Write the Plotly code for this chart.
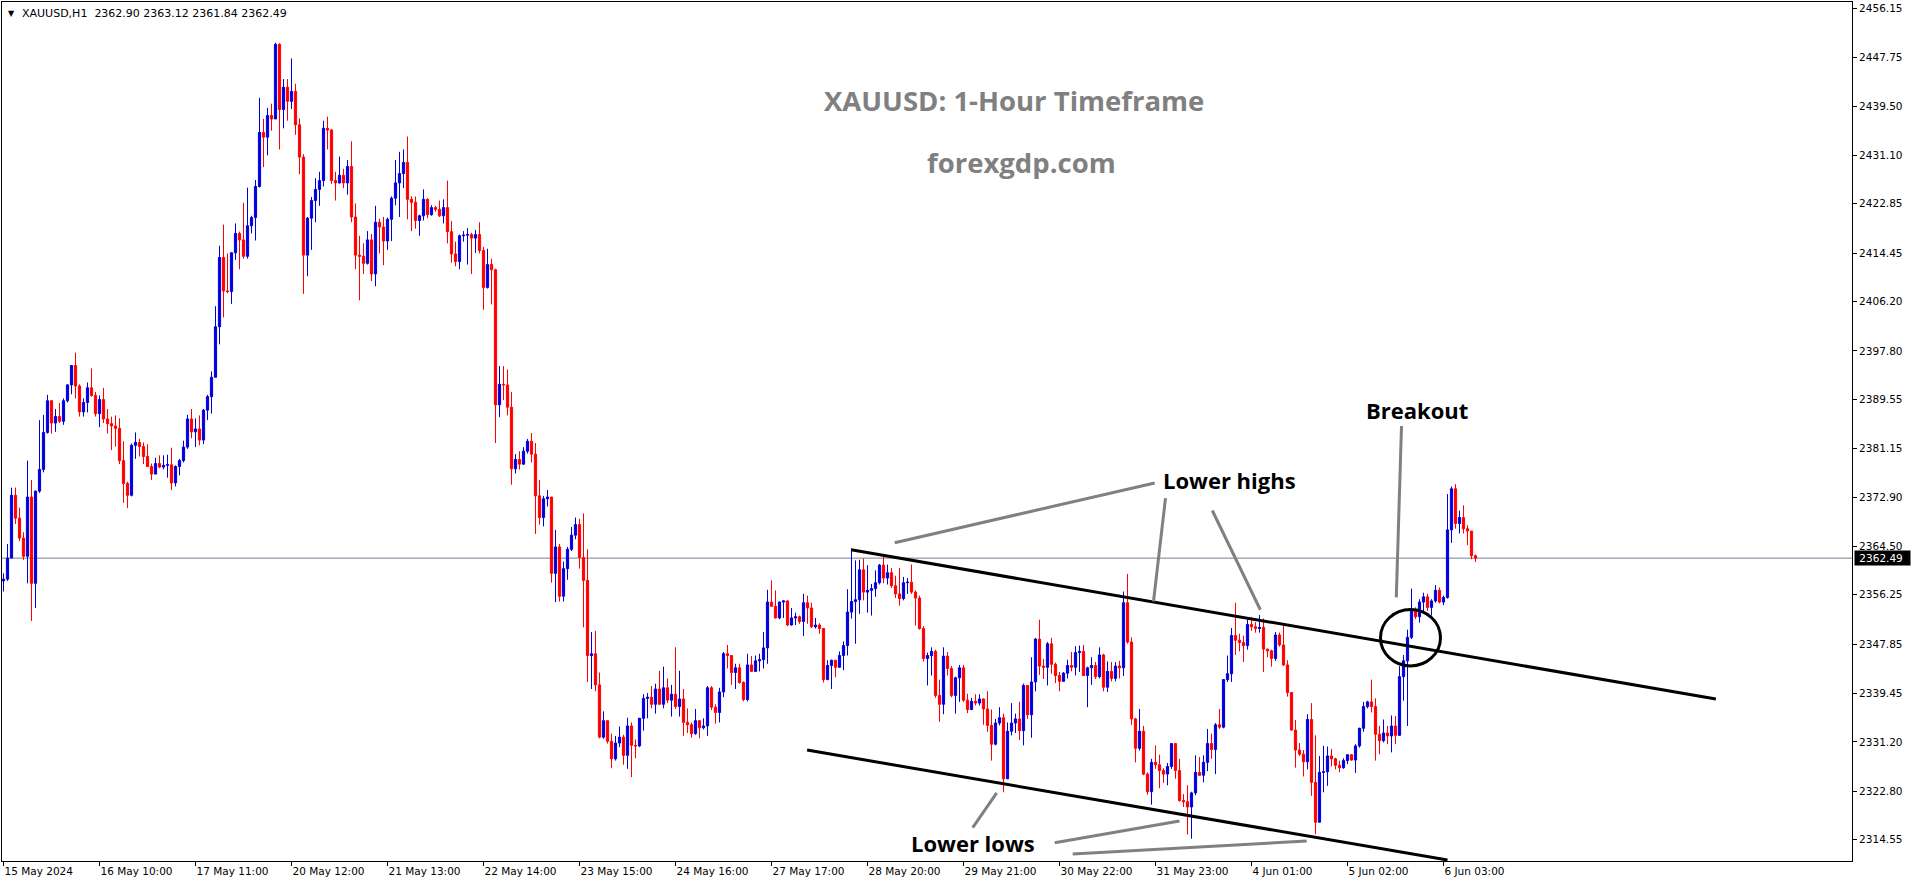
import plotly.graph_objects as go

# ---------------- data ----------------
first_open = 2358.6

close = [
2358.9,2362.5,2373.2,2369.3,2365.9,2362.8,2372.9,2358.2,2373.9,2377.6,
2383.9,2389.3,2385.5,2386.6,2385.8,2389.3,2392.0,2395.3,2391.8,2387.4,
2389.0,2391.5,2390.2,2387.1,2389.5,2386.2,2385.4,2385.0,2384.6,2379.1,
2375.2,2373.2,2381.7,2382.2,2381.5,2379.8,2378.1,2376.8,2378.6,2378.0,
2378.3,2378.4,2375.3,2378.1,2379.1,2381.4,2386.2,2384.0,2384.5,2382.6,
2387.7,2390.0,2393.3,2401.9,2413.7,2408.0,2407.9,2414.5,2417.8,2416.7,
2413.9,2419.1,2420.5,2425.8,2435.0,2434.2,2437.9,2437.3,2450.0,2438.9,
2442.7,2440.3,2442.0,2436.3,2430.8,2414.1,2420.4,2423.4,2425.3,2426.8,
2435.7,2435.4,2426.8,2426.4,2427.7,2426.4,2429.2,2420.6,2414.1,2413.9,
2412.7,2416.7,2410.9,2419.7,2418.9,2416.5,2420.2,2423.8,2426.4,2428.0,
2429.9,2423.6,2423.1,2420.0,2420.8,2423.6,2421.0,2422.2,2421.9,2420.8,
2422.2,2418.1,2414.3,2413.0,2417.4,2417.5,2417.6,2417.0,2417.6,2414.9,
2408.6,2412.5,2411.6,2388.6,2392.1,2392.0,2388.2,2377.7,2379.3,2378.5,
2380.7,2382.4,2380.2,2373.1,2369.4,2372.6,2372.9,2359.9,2364.4,2356.0,
2360.7,2364.0,2366.4,2368.2,2362.6,2358.7,2345.9,2346.2,2340.9,2332.0,
2334.8,2331.3,2328.3,2331.0,2332.0,2328.9,2333.9,2330.6,2330.5,2335.2,
2338.6,2338.8,2337.6,2340.2,2337.6,2340.4,2338.3,2339.3,2337.2,2338.5,
2334.5,2334.1,2332.6,2334.8,2333.6,2333.9,2340.4,2337.1,2336.2,2339.7,
2346.2,2345.9,2343.0,2343.8,2341.3,2338.4,2344.3,2343.2,2345.0,2345.2,
2347.2,2355.0,2354.3,2352.3,2355.0,2355.2,2351.1,2352.3,2352.5,2351.7,
2354.9,2354.0,2350.8,2351.1,2350.5,2341.8,2344.2,2345.1,2343.9,2345.9,
2347.6,2353.3,2355.1,2355.4,2360.5,2356.7,2357.0,2357.3,2358.3,2361.3,
2359.1,2360.0,2357.8,2356.4,2355.6,2358.3,2358.4,2356.7,2355.7,2350.5,
2345.4,2345.9,2346.6,2339.1,2337.6,2345.8,2343.7,2339.1,2342.1,2343.8,
2338.3,2336.7,2338.1,2337.8,2338.5,2336.8,2334.0,2330.8,2334.4,2335.3,
2324.9,2333.0,2334.4,2335.1,2333.1,2340.8,2335.8,2341.4,2348.7,2344.1,
2343.9,2347.9,2344.4,2342.5,2341.5,2342.9,2344.2,2343.9,2346.4,2346.6,
2342.5,2343.8,2344.2,2342.3,2346.0,2340.5,2343.2,2342.0,2344.1,2343.8,
2354.9,2348.2,2335.1,2330.1,2333.0,2325.7,2322.7,2327.7,2327.3,2326.3,
2325.7,2327.0,2330.9,2326.3,2321.2,2321.0,2320.1,2322.5,2326.0,2325.5,
2327.7,2330.9,2329.9,2334.1,2333.7,2341.8,2342.8,2349.3,2348.5,2348.1,
2347.6,2351.2,2350.8,2350.5,2350.7,2347.0,2346.7,2345.4,2349.4,2347.7,
2344.3,2339.6,2333.2,2329.8,2329.1,2327.8,2335.0,2324.3,2317.5,2326.0,
2326.1,2328.8,2328.3,2327.2,2326.8,2328.0,2329.0,2328.1,2330.5,2333.5,
2337.2,2338.0,2337.2,2332.5,2331.4,2332.7,2332.2,2333.9,2332.3,2342.3,
2345.0,2349.0,2353.5,2352.5,2355.0,2355.9,2354.1,2355.2,2357.0,2355.0,
2355.8,2367.3,2374.3,2368.4,2369.4,2367.5,2367.1,2362.9,2362.49,
]

high = [
2359.9,2364.9,2374.5,2374.5,2371.1,2366.9,2379.1,2375.8,2374.0,2386.0,
2386.9,2390.3,2389.4,2387.9,2388.9,2389.7,2392.1,2395.4,2397.5,2392.1,
2389.7,2392.4,2394.8,2390.8,2390.2,2391.5,2387.9,2386.6,2386.8,2386.3,
2382.4,2375.5,2382.0,2383.9,2382.8,2382.2,2381.9,2378.6,2379.6,2380.0,
2380.0,2380.1,2381.3,2378.3,2379.4,2382.5,2386.9,2387.9,2386.3,2386.8,
2387.9,2390.3,2394.3,2405.4,2415.7,2419.3,2414.4,2414.6,2419.5,2418.1,
2423.0,2425.6,2420.8,2426.9,2440.9,2437.3,2439.2,2439.9,2450.3,2450.2,
2444.1,2444.1,2447.6,2443.3,2437.4,2431.3,2420.6,2424.0,2427.2,2428.3,
2437.0,2437.7,2435.6,2428.3,2430.9,2428.8,2430.3,2433.5,2422.9,2417.4,
2416.1,2418.2,2417.7,2422.5,2420.3,2420.6,2420.5,2424.1,2430.3,2431.7,
2432.1,2434.3,2424.1,2424.1,2421.0,2425.3,2423.8,2422.6,2422.5,2423.4,
2423.6,2426.8,2419.9,2416.4,2417.6,2418.2,2418.7,2417.9,2418.4,2419.7,
2415.5,2415.2,2413.5,2411.8,2395.2,2395.2,2394.6,2390.8,2380.2,2380.7,
2381.4,2382.8,2383.8,2382.1,2375.8,2373.1,2374.1,2372.9,2367.3,2364.9,
2361.9,2364.4,2367.8,2369.4,2369.2,2370.1,2364.0,2349.9,2350.1,2343.0,
2336.4,2334.8,2332.6,2332.2,2333.8,2332.4,2335.3,2334.5,2331.6,2335.3,
2339.3,2339.5,2340.7,2341.1,2343.3,2344.0,2342.0,2340.9,2347.3,2343.3,
2340.2,2336.9,2334.5,2336.8,2334.9,2335.2,2340.7,2340.7,2337.6,2340.4,
2346.5,2347.7,2346.0,2344.5,2344.5,2341.5,2346.2,2345.8,2345.9,2346.2,
2349.9,2357.1,2358.7,2357.0,2355.1,2355.3,2355.3,2354.0,2353.2,2352.7,
2356.4,2356.1,2354.9,2352.3,2351.4,2350.6,2345.1,2345.2,2345.1,2346.6,
2348.3,2357.2,2364.1,2362.1,2362.2,2362.4,2361.3,2358.1,2360.4,2361.5,
2363.1,2361.4,2360.8,2359.5,2360.8,2359.3,2359.1,2361.4,2357.0,2356.1,
2350.9,2346.4,2347.3,2346.9,2341.8,2347.3,2346.5,2344.1,2342.3,2344.3,
2344.3,2339.4,2338.7,2339.3,2339.3,2338.6,2339.8,2336.7,2335.1,2337.1,
2336.0,2334.5,2337.8,2336.0,2338.0,2341.1,2340.8,2345.6,2348.9,2352.0,
2345.3,2348.2,2348.9,2344.7,2343.1,2343.1,2345.2,2346.5,2347.5,2347.6,
2347.7,2344.0,2345.6,2344.8,2347.3,2346.2,2344.9,2344.8,2344.8,2345.0,
2356.8,2359.8,2349.0,2335.3,2336.8,2333.9,2326.0,2328.3,2330.6,2329.0,
2326.7,2327.6,2331.0,2331.0,2328.3,2322.3,2323.8,2322.7,2328.9,2328.6,
2328.9,2333.4,2332.6,2334.4,2336.8,2341.9,2345.9,2350.6,2354.9,2349.6,
2349.3,2352.0,2352.4,2351.6,2352.8,2352.2,2347.0,2346.9,2349.9,2349.8,
2351.2,2345.1,2339.6,2334.9,2331.0,2329.8,2335.9,2337.8,2332.3,2328.8,
2330.5,2330.4,2330.0,2328.5,2328.0,2328.4,2329.1,2329.1,2330.8,2333.6,
2338.0,2338.2,2341.8,2338.6,2333.9,2335.0,2333.9,2335.7,2335.6,2344.1,
2346.0,2350.3,2357.3,2354.1,2355.5,2356.6,2356.4,2355.5,2357.9,2357.5,
2356.1,2373.4,2374.7,2375.1,2370.6,2371.5,2368.1,2367.1,2363.12,
]

low = [
2356.8,2358.6,2362.5,2368.3,2365.4,2362.2,2358.2,2351.8,2354.0,2373.6,
2377.1,2383.7,2383.7,2384.0,2385.5,2385.2,2389.0,2390.4,2389.7,2386.6,
2386.6,2387.3,2390.0,2386.6,2384.8,2385.5,2383.7,2380.9,2381.5,2378.5,
2371.9,2371.0,2373.0,2379.4,2379.8,2378.5,2378.0,2375.8,2376.8,2377.8,
2377.6,2376.2,2374.1,2374.7,2376.6,2378.8,2381.1,2382.9,2381.4,2381.7,
2381.9,2386.0,2387.1,2393.4,2398.9,2403.5,2407.6,2405.8,2413.3,2411.7,
2413.5,2413.5,2417.8,2416.6,2425.6,2429.1,2431.1,2435.3,2437.3,2432.1,
2435.7,2437.0,2439.0,2434.6,2427.9,2407.5,2410.5,2415.0,2419.7,2422.5,
2425.8,2432.1,2426.2,2423.4,2426.3,2425.5,2424.4,2419.7,2411.7,2406.4,
2410.9,2412.5,2409.7,2408.8,2414.4,2412.4,2415.0,2416.5,2422.6,2420.6,
2425.5,2420.2,2418.2,2418.6,2417.4,2420.0,2420.4,2420.8,2421.5,2420.6,
2419.5,2416.1,2412.8,2412.2,2411.7,2416.4,2412.5,2410.9,2414.5,2414.4,
2404.8,2408.4,2405.7,2382.1,2386.5,2389.4,2386.8,2375.0,2376.9,2377.6,
2378.4,2380.3,2378.8,2366.6,2368.2,2367.9,2371.3,2358.3,2355.0,2355.1,
2355.1,2358.8,2363.7,2365.7,2360.7,2350.7,2341.4,2340.2,2339.8,2331.8,
2331.7,2330.9,2326.7,2328.0,2330.3,2327.3,2326.6,2325.2,2328.4,2330.3,
2333.1,2335.2,2336.9,2336.0,2337.5,2336.9,2337.8,2335.5,2336.8,2335.5,
2332.2,2332.7,2331.9,2332.4,2331.8,2333.3,2332.2,2336.6,2334.3,2334.5,
2338.8,2343.7,2340.9,2340.2,2341.1,2338.1,2338.1,2343.1,2343.1,2343.2,
2343.7,2344.5,2354.2,2352.2,2352.1,2352.3,2350.9,2351.0,2351.1,2351.3,
2349.2,2351.3,2350.6,2350.5,2349.6,2341.3,2341.7,2340.2,2342.2,2343.8,
2343.4,2345.9,2352.2,2347.9,2353.0,2355.3,2353.2,2352.7,2355.9,2358.0,
2358.2,2358.0,2357.4,2355.7,2354.4,2355.3,2356.4,2356.4,2351.0,2350.3,
2344.9,2340.8,2342.5,2338.7,2334.6,2335.9,2342.5,2338.8,2336.0,2338.0,
2338.0,2336.1,2336.6,2337.4,2337.4,2334.1,2332.9,2328.0,2330.6,2334.0,
2322.6,2324.9,2332.3,2332.7,2331.5,2330.6,2335.1,2331.9,2339.8,2342.6,
2341.9,2340.8,2342.8,2341.2,2339.8,2341.5,2342.0,2343.2,2342.5,2343.1,
2342.4,2337.1,2340.9,2341.9,2342.0,2339.8,2339.7,2341.5,2341.5,2342.0,
2342.4,2347.9,2334.1,2327.7,2329.7,2325.5,2322.2,2320.5,2326.6,2323.3,
2324.2,2323.8,2326.6,2324.9,2321.0,2320.1,2315.4,2314.7,2322.1,2325.4,
2324.3,2326.2,2328.3,2325.7,2333.4,2333.5,2341.4,2341.4,2346.0,2346.6,
2344.8,2346.9,2350.1,2349.8,2349.8,2343.1,2345.6,2344.0,2345.0,2347.4,
2344.1,2338.9,2333.1,2326.8,2328.8,2325.3,2326.5,2322.0,2315.5,2317.5,
2322.6,2323.7,2327.0,2326.5,2326.0,2326.6,2327.4,2328.0,2325.9,2330.2,
2332.9,2336.9,2336.2,2328.0,2329.1,2331.1,2330.8,2329.4,2330.8,2332.2,
2338.2,2333.9,2348.7,2352.1,2351.5,2353.2,2353.5,2352.7,2354.9,2354.8,
2354.5,2355.6,2365.1,2367.5,2366.7,2366.7,2364.7,2362.3,2361.84,
]

tick_bars = [0, 24, 48, 72, 96, 120, 144, 168, 192, 216, 240, 264, 288, 312, 336, 360]
tick_labels = ["15 May 2024", "16 May 10:00", "17 May 11:00", "20 May 12:00",
               "21 May 13:00", "22 May 14:00", "23 May 15:00", "24 May 16:00",
               "27 May 17:00", "28 May 20:00", "29 May 21:00", "30 May 22:00",
               "31 May 23:00", "4 Jun 01:00", "5 Jun 02:00", "6 Jun 03:00"]
price_ticks = [2456.15, 2447.75, 2439.50, 2431.10, 2422.85, 2414.45, 2406.20,
               2397.80, 2389.55, 2381.15, 2372.90, 2364.50, 2356.25, 2347.85,
               2339.45, 2331.20, 2322.80, 2314.55]
last_price = 2362.49
header_ohlc = [2362.90, 2363.12, 2361.84, 2362.49]

# ---------------- derived series ----------------
bars = list(range(len(close)))
opens = [first_open] + close[:-1]
hi = [max(h, o, c) for h, o, c in zip(high, opens, close)]
lo = [min(l, o, c) for l, o, c in zip(low, opens, close)]

BLUE = "#0000dd"
RED = "#ff0000"
GREY = "#808080"

W, H = 1916, 884
ML, MR, MT, MB = 2, 64, 2, 23
PW, PH = W - ML - MR, H - MT - MB


def px(xp):
    return (xp - ML) / PW


def py(yp):
    return (H - MB - yp) / PH


fig = go.Figure(go.Candlestick(
    x=bars, open=opens, high=hi, low=lo, close=close,
    increasing=dict(line=dict(color=BLUE, width=1), fillcolor=BLUE),
    decreasing=dict(line=dict(color=RED, width=1), fillcolor=RED),
    whiskerwidth=0, hoverinfo="skip", showlegend=False,
))

axis_font = dict(family="DejaVu Sans", size=10.5, color="black")

fig.update_layout(
    width=W, height=H,
    margin=dict(l=ML, r=MR, t=MT, b=MB, pad=0),
    paper_bgcolor="white", plot_bgcolor="white",
    boxgap=0.45, boxgroupgap=0,
    showlegend=False,
    xaxis=dict(
        range=[-0.375, 462.125], rangeslider=dict(visible=False),
        tickmode="array", tickvals=tick_bars, ticktext=tick_labels,
        ticks="outside", ticklen=4, tickwidth=1, tickcolor="black",
        ticklabelposition="outside right",
        showgrid=False, zeroline=False,
        showline=True, linecolor="black", linewidth=1, mirror=True,
        tickfont=axis_font, fixedrange=True,
    ),
    yaxis=dict(
        range=[2310.9, 2457.22], side="right",
        tickmode="array", tickvals=price_ticks,
        ticktext=[f"{v:.2f}" for v in price_ticks],
        ticks="outside", ticklen=4, tickwidth=1, tickcolor="black",
        showgrid=False, zeroline=False,
        showline=True, linecolor="black", linewidth=1, mirror=True,
        tickfont=axis_font, fixedrange=True,
    ),
)

shapes = []
# current price line
shapes.append(dict(type="line", xref="paper", x0=0, x1=1, yref="y",
                   y0=last_price, y1=last_price,
                   line=dict(color="#708090", width=1), layer="below"))
# channel lines
shapes.append(dict(type="line", xref="x", yref="y", x0=211.9, y0=2363.9,
                   x1=428.1, y1=2338.5, line=dict(color="black", width=3)))
shapes.append(dict(type="line", xref="x", yref="y", x0=200.9, y0=2329.8,
                   x1=361.0, y1=2311.07, line=dict(color="black", width=3)))
# grey pointer lines
pointers = [
    (287.8, 2375.3, 222.8, 2365.1),
    (290.5, 2372.7, 287.5, 2355.1),
    (302.2, 2370.6, 314.2, 2353.7),
    (349.5, 2385.0, 348.2, 2355.8),
    (242.3, 2316.6, 248.3, 2322.5),
    (262.8, 2314.0, 294.0, 2317.7),
    (267.3, 2312.1, 325.8, 2314.3),
]
for x0, y0, x1, y1 in pointers:
    shapes.append(dict(type="line", xref="x", yref="y", x0=x0, y0=y0,
                       x1=x1, y1=y1, line=dict(color=GREY, width=3)))
# breakout circle
shapes.append(dict(type="circle", xref="x", yref="y", x0=344.25, x1=359.25,
                   y0=2344.12, y1=2353.74, line=dict(color="black", width=3)))
fig.update_layout(shapes=shapes)

nb = "\u00a0"
header_font = dict(family="DejaVu Sans", size=11, color="black")
anns = [
    dict(xref="paper", yref="paper", x=px(6), y=py(13), xanchor="left", yanchor="middle",
         text="\u25bc", showarrow=False, font=dict(family="DejaVu Sans", size=8, color="black")),
    dict(xref="paper", yref="paper", x=px(19.5), y=py(13), xanchor="left", yanchor="middle",
         text="XAUUSD,H1" + nb * 2 + " ".join(f"{v:.2f}" for v in header_ohlc),
         showarrow=False, font=header_font),
    dict(xref="paper", yref="paper", x=px(1014.5), y=py(100), xanchor="center", yanchor="middle",
         text="<b>XAUUSD: 1-Hour Timeframe</b>", showarrow=False,
         font=dict(family="Open Sans", size=27.5, color=GREY)),
    dict(xref="paper", yref="paper", x=px(1021), y=py(163), xanchor="center", yanchor="middle",
         text="<b>forexgdp.com</b>", showarrow=False,
         font=dict(family="Open Sans", size=27.5, color=GREY)),
    dict(xref="paper", yref="paper", x=px(1229.5), y=py(480), xanchor="center", yanchor="middle",
         text="<b>Lower highs</b>", showarrow=False,
         font=dict(family="Open Sans", size=22, color="black")),
    dict(xref="paper", yref="paper", x=px(1417), y=py(410), xanchor="center", yanchor="middle",
         text="<b>Breakout</b>", showarrow=False,
         font=dict(family="Open Sans", size=22, color="black")),
    dict(xref="paper", yref="paper", x=px(973), y=py(843), xanchor="center", yanchor="middle",
         text="<b>Lower lows</b>", showarrow=False,
         font=dict(family="Open Sans", size=22, color="black")),
    dict(xref="paper", yref="y", x=1, y=last_price, xanchor="left", yanchor="middle",
         xshift=2, text=nb + f"{last_price:.2f}" + nb * 2, showarrow=False,
         bgcolor="black", borderpad=1,
         font=dict(family="DejaVu Sans", size=10.5, color="white")),
]
fig.update_layout(annotations=anns)

fig.write_html(
    "out.html",
    config={"displayModeBar": False, "staticPlot": True},
    post_script="document.body.style.margin='0';document.body.style.overflow='hidden';",
)
